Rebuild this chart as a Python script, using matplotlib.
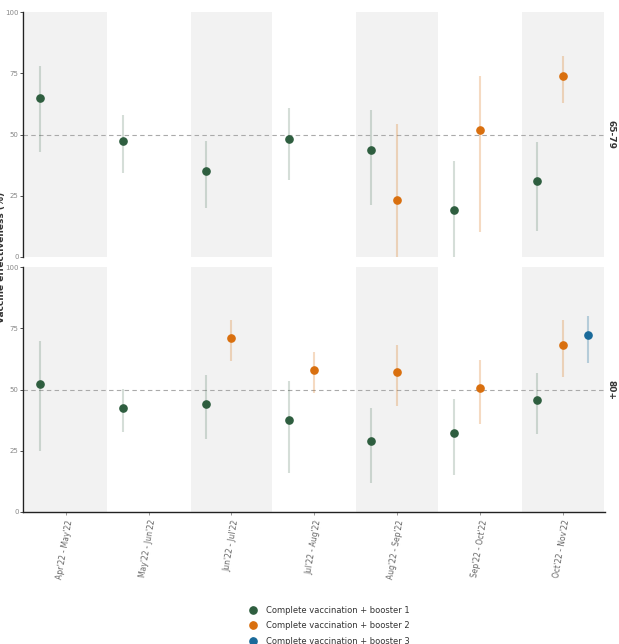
import numpy as np
import matplotlib.pyplot as plt
from matplotlib.colors import to_rgba

periods = ["Apr'22 - May'22", "May'22 - Jun'22", "Jun'22 - Jul'22", "Jul'22 - Aug'22",
           "Aug'22 - Sep'22", "Sep'22 - Oct'22", "Oct'22 - Nov'22"]
age_groups = ["65-79", "80+"]
series = ["Complete vaccination + booster 1", "Complete vaccination + booster 2",
          "Complete vaccination + booster 3"]
nan = np.nan

# 65-79
b1_6579_est = [64.9, 47.5, 35.0, 48.2, 43.7, 19.3, 31.0]
b1_6579_lo = [42.8, 34.2, 19.9, 31.4, 21.2, 0.0, 10.6]
b1_6579_hi = [78.0, 58.2, 47.5, 60.7, 60.0, 39.4, 46.8]
b2_6579_est = [nan, nan, nan, nan, 23.3, 52.0, 73.8]
b2_6579_lo = [nan, nan, nan, nan, 0.0, 10.4, 63.0]
b2_6579_hi = [nan, nan, nan, nan, 54.3, 74.0, 82.2]
b3_6579_est = [nan] * 7
b3_6579_lo = [nan] * 7
b3_6579_hi = [nan] * 7

# 80+
b1_80_est = [52.2, 42.4, 44.0, 37.6, 29.0, 32.4, 45.6]
b1_80_lo = [25.0, 32.7, 29.8, 16.0, 12.0, 15.1, 31.8]
b1_80_hi = [69.8, 50.3, 55.9, 53.5, 42.4, 46.2, 56.6]
b2_80_est = [nan, nan, 71.0, 58.0, 57.3, 50.7, 68.4]
b2_80_lo = [nan, nan, 61.6, 48.6, 43.3, 35.9, 55.0]
b2_80_hi = [nan, nan, 78.4, 65.3, 68.2, 62.0, 78.4]
b3_80_est = [nan, nan, nan, nan, nan, nan, 72.2]
b3_80_lo = [nan, nan, nan, nan, nan, nan, 61.0]
b3_80_hi = [nan, nan, nan, nan, nan, nan, 80.0]

panels = {
    "65-79": [(b1_6579_est, b1_6579_lo, b1_6579_hi),
              (b2_6579_est, b2_6579_lo, b2_6579_hi),
              (b3_6579_est, b3_6579_lo, b3_6579_hi)],
    "80+": [(b1_80_est, b1_80_lo, b1_80_hi),
            (b2_80_est, b2_80_lo, b2_80_hi),
            (b3_80_est, b3_80_lo, b3_80_hi)],
}

colors = ['#2E5E3F', '#D96F0E', '#1A6A9A']
bar_alpha = [0.2, 0.25, 0.28]
offsets = [-0.31, 0.0, 0.31]

fig = plt.figure(figsize=(6.19, 6.44), dpi=100)
ax_top = fig.add_axes([0.037, 0.601, 0.940, 0.380])
ax_bot = fig.add_axes([0.037, 0.205, 0.940, 0.380])
x = np.arange(len(periods))

handles = []
for ax, grp in zip([ax_top, ax_bot], age_groups):
    for i in range(0, len(periods), 2):
        ax.axvspan(i - 0.495, i + 0.495, color='#F2F2F2', lw=0, zorder=0)
    ax.axhline(50, color='#AAAAAA', ls=(0, (4, 3)), lw=0.8, zorder=1)
    for k, (est, lo, hi) in enumerate(panels[grp]):
        est = np.array(est)
        lo = np.array(lo)
        hi = np.array(hi)
        xs = x + offsets[k]
        eb = ax.errorbar(xs, est, yerr=[est - lo, hi - est], fmt='o', color=colors[k],
                         ecolor=to_rgba(colors[k], bar_alpha[k]), elinewidth=1.5, ms=5.2,
                         capsize=0, zorder=3, label=series[k])
        if grp == "80+":
            handles.append(eb)
    ax.set_xlim(-0.52, 6.51)
    ax.set_ylim(0, 100)
    ax.set_yticks([0, 25, 50, 75, 100])
    ax.tick_params(axis='y', labelsize=5, labelcolor='#888888', length=2, width=0.6,
                   pad=1, color='#333333')
    for s in ['top', 'right']:
        ax.spines[s].set_visible(False)
    ax.spines['left'].set_color('#222222')
    ax.spines['left'].set_linewidth(1.0)
    ax.text(1.003, 0.5, grp, transform=ax.transAxes, rotation=-90, ha='left',
            va='center', fontsize=6.5, fontweight='bold', color='#333333')

ax_top.spines['bottom'].set_visible(False)
ax_top.set_xticks([])
ax_bot.spines['bottom'].set_color('#222222')
ax_bot.spines['bottom'].set_linewidth(1.0)
ax_bot.set_xticks(x)
ax_bot.set_xticklabels(periods, rotation=80, ha='right', va='top', rotation_mode='anchor',
                       fontsize=5.5, color='#666666')
ax_bot.tick_params(axis='x', length=2, width=0.6, color='#888888', pad=3)

fig.text(0.002, 0.60, 'Vaccine effectiveness (%)', rotation=90, ha='center',
         va='center', fontsize=6.5, fontweight='bold', color='#333333')

fig.legend(handles=handles, labels=series, loc='upper left',
           bbox_to_anchor=(0.395, 0.064), frameon=False, fontsize=6,
           handlelength=1.2, handletextpad=1.0, labelspacing=0.75,
           borderaxespad=0, labelcolor='#333333')

fig.savefig('out.png', dpi=100)
